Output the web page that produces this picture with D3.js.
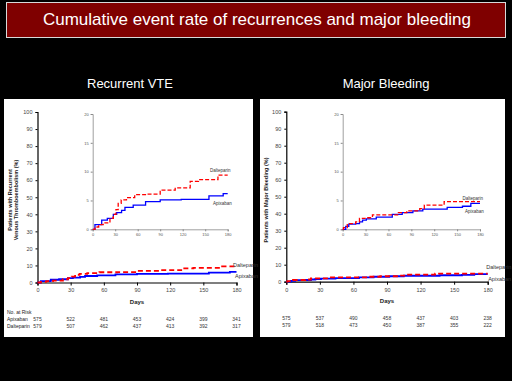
<!DOCTYPE html>
<html>
<head>
<meta charset="utf-8">
<script src="https://cdn.jsdelivr.net/npm/d3@7"></script>
<style>
  body { margin: 0; background: #000; }
  svg { display: block; font-family: "Liberation Sans", Arial, sans-serif; }
</style>
</head>
<body>
<div id="chart"></div>
<script>
// canvas
var width = 512,
    height = 381;

// x ticks (days) shared by all plots
var dayTicks = [0, 30, 60, 90, 120, 150, 180];

// Recurrent VTE, cumulative event rate (%) - step points
var vteApixDays = [0, 3, 12, 19.5, 27.5, 32, 38.5, 43, 54, 70.5, 90, 118, 155, 174, 180];
var vteApixVals = [0, 0.8, 1.6, 1.9, 2.6, 2.9, 3.3, 3.8, 4.2, 4.8, 5.1, 5.2, 5.8, 6.2, 6.2];
var vteDaltDays = [0, 3, 8, 14, 23, 27.5, 31, 34, 38, 45, 56, 72, 90, 110, 130, 141, 167, 180];
var vteDaltVals = [0, 0.4, 0.8, 1.1, 1.9, 2.6, 3.4, 4.5, 5.1, 5.5, 6.0, 6.1, 6.8, 7.2, 8.3, 8.6, 9.4, 9.4];

// Major bleeding, cumulative event rate (%)
var mbApixDays = [0, 4, 8, 17, 22, 26, 31, 44, 65, 78, 92, 105, 137, 157, 168, 180];
var mbApixVals = [0, 0.5, 0.9, 1.0, 1.3, 1.6, 1.8, 2.1, 2.6, 2.9, 3.2, 3.5, 3.8, 4.0, 4.5, 4.5];
var mbDaltDays = [0, 1, 6, 17, 22, 31, 39, 73, 84, 101, 107, 133, 180];
var mbDaltVals = [0, 0.3, 1.0, 1.3, 1.9, 2.0, 2.5, 2.9, 3.2, 3.6, 4.2, 4.8, 4.8];

// numbers at risk
var vteRiskApix = [575, 522, 481, 453, 424, 399, 341];
var vteRiskDalt = [579, 507, 462, 437, 413, 392, 317];
var mbRiskApix = [575, 537, 490, 458, 437, 403, 238];
var mbRiskDalt = [579, 518, 473, 450, 387, 355, 222];

var svg = d3.select("#chart")
    .append("svg")
    .attr("width", width)
    .attr("height", height);

svg.append("rect")
    .attr("width", width)
    .attr("height", height)
    .attr("fill", "#000");

// title banner
svg.append("rect")
    .attr("x", 6.5).attr("y", 2.5)
    .attr("width", 499).attr("height", 35)
    .attr("fill", "#7f0000")
    .attr("stroke", "#d8d8d8")
    .attr("stroke-width", 1);

svg.append("text")
    .attr("x", 257).attr("y", 24.5)
    .attr("text-anchor", "middle")
    .attr("fill", "#fff")
    .attr("font-size", "17px")
    .text("Cumulative event rate of recurrences and major bleeding");

function zip(days, vals) {
    return days.map(function(d, i) { return [d, vals[i]]; });
}

function drawPanel(cfg) {
    // subtitle above panel
    svg.append("text")
        .attr("x", cfg.titleX).attr("y", 88)
        .attr("text-anchor", "middle")
        .attr("fill", "#fff")
        .attr("font-size", "13px")
        .text(cfg.title);

    // white panel
    svg.append("rect")
        .attr("x", cfg.box[0]).attr("y", cfg.box[1])
        .attr("width", cfg.box[2]).attr("height", cfg.box[3])
        .attr("fill", "#fff");

    var g = svg.append("g");

    // main plot
    var x = d3.scaleLinear().domain([0, 180]).range(cfg.mainX);
    var y = d3.scaleLinear().domain([0, 100]).range(cfg.mainY);

    var xAxis = g.append("g")
        .attr("transform", "translate(0," + cfg.mainY[0] + ")")
        .call(d3.axisBottom(x).tickValues(dayTicks).tickSize(3).tickPadding(3));
    var yAxis = g.append("g")
        .attr("transform", "translate(" + cfg.mainX[0] + ",0)")
        .call(d3.axisLeft(y).ticks(10).tickSize(2).tickPadding(3));
    [xAxis, yAxis].forEach(function(a) {
        a.select(".domain").attr("stroke", "#000").attr("stroke-width", 1.2);
        a.selectAll(".tick line").attr("stroke", "#000");
        a.selectAll(".tick text").attr("font-size", "5.5px").attr("fill", "#444")
            .attr("font-family", "Liberation Sans, Arial, sans-serif");
    });

    g.append("text")
        .attr("x", (cfg.mainX[0] + cfg.mainX[1]) / 2)
        .attr("y", cfg.mainY[0] + 21)
        .attr("text-anchor", "middle")
        .attr("font-size", "6px")
        .attr("font-weight", "bold")
        .attr("fill", "#222")
        .text("Days");

    // y axis title
    var yl = g.append("text")
        .attr("transform", "translate(" + cfg.yLabelX + ",200) rotate(-90)")
        .attr("text-anchor", "middle")
        .attr("font-size", "5.5px")
        .attr("font-weight", "bold")
        .attr("fill", "#222");
    cfg.yLabel.forEach(function(t, i) {
        yl.append("tspan").attr("x", 0).attr("dy", i === 0 ? 0 : "1.15em").text(t);
    });

    var line = d3.line()
        .curve(d3.curveStepAfter)
        .x(function(d) { return x(d[0]); })
        .y(function(d) { return y(d[1]); });

    g.append("path")
        .datum(zip(cfg.apixDays, cfg.apixVals))
        .attr("d", line)
        .attr("fill", "none")
        .attr("stroke", "#0000ff")
        .attr("stroke-width", 1.8);
    g.append("path")
        .datum(zip(cfg.daltDays, cfg.daltVals))
        .attr("d", line)
        .attr("fill", "none")
        .attr("stroke", "#ff0000")
        .attr("stroke-width", 1.8)
        .attr("stroke-dasharray", "5,3");

    g.append("text")
        .attr("x", x(180) + cfg.labDx).attr("y", cfg.mainLabY[0])
        .attr("font-size", "5.5px").attr("fill", "#333")
        .text("Dalteparin");
    g.append("text")
        .attr("x", x(180) + cfg.labDx + 2).attr("y", cfg.mainLabY[1])
        .attr("font-size", "5.5px").attr("fill", "#333")
        .text("Apixaban");

    // numbers at risk
    var risk = g.append("g");
    if (cfg.riskLabels) {
        risk.append("text").attr("x", 7).attr("y", 314).attr("font-size", "5px").attr("fill", "#222")
            .text("No. at Risk");
        risk.append("text").attr("x", 7).attr("y", cfg.riskY[0]).attr("font-size", "5px").attr("fill", "#222")
            .text("Apixaban");
        risk.append("text").attr("x", 7).attr("y", cfg.riskY[1]).attr("font-size", "5px").attr("fill", "#222")
            .text("Dalteparin");
    }
    [cfg.riskApix, cfg.riskDalt].forEach(function(row, r) {
        risk.selectAll(null)
            .data(row)
            .enter().append("text")
            .attr("x", function(d, i) { return x(dayTicks[i]); })
            .attr("y", cfg.riskY[r])
            .attr("text-anchor", "middle")
            .attr("font-size", "5px")
            .attr("fill", "#333")
            .text(function(d) { return d; });
    });

    // inset plot
    var xi = d3.scaleLinear().domain([0, 180]).range(cfg.insetX);
    var yi = d3.scaleLinear().domain([0, 20]).range(cfg.insetY);

    var xiAxis = g.append("g")
        .attr("transform", "translate(0," + cfg.insetY[0] + ")")
        .call(d3.axisBottom(xi).tickValues(dayTicks).tickSize(2).tickPadding(2));
    var yiAxis = g.append("g")
        .attr("transform", "translate(" + cfg.insetX[0] + ",0)")
        .call(d3.axisLeft(yi).tickValues([0, 5, 10, 15, 20]).tickSize(2).tickPadding(2));
    [xiAxis, yiAxis].forEach(function(a) {
        a.select(".domain").attr("stroke", "#888").attr("stroke-width", 0.8);
        a.selectAll(".tick line").attr("stroke", "#888");
        a.selectAll(".tick text").attr("font-size", "4px").attr("fill", "#555")
            .attr("font-family", "Liberation Sans, Arial, sans-serif");
    });

    var lineI = d3.line()
        .curve(d3.curveStepAfter)
        .x(function(d) { return xi(d[0]); })
        .y(function(d) { return yi(d[1]); });

    g.append("path")
        .datum(zip(cfg.apixDays, cfg.apixVals))
        .attr("d", lineI)
        .attr("fill", "none")
        .attr("stroke", "#0000ff")
        .attr("stroke-width", 1.3);
    g.append("path")
        .datum(zip(cfg.daltDays, cfg.daltVals))
        .attr("d", lineI)
        .attr("fill", "none")
        .attr("stroke", "#ff0000")
        .attr("stroke-width", 1.3)
        .attr("stroke-dasharray", "4,2");

    g.append("text")
        .attr("x", cfg.insetLab[0]).attr("y", cfg.insetLab[1])
        .attr("font-size", "4.5px").attr("fill", "#333")
        .text("Dalteparin");
    g.append("text")
        .attr("x", cfg.insetLab[2]).attr("y", cfg.insetLab[3])
        .attr("font-size", "4.5px").attr("fill", "#333")
        .text("Apixaban");
}

drawPanel({
    title: "Recurrent VTE", titleX: 130,
    box: [4, 99, 249, 238],
    mainX: [37.5, 236.5], mainY: [282.5, 112],
    insetX: [92.7, 227.7], insetY: [229.3, 114],
    yLabelX: 11.5, yLabel: ["Patients with Recurrent", "Venous Thromboembolism (%)"],
    apixDays: vteApixDays, apixVals: vteApixVals,
    daltDays: vteDaltDays, daltVals: vteDaltVals,
    riskApix: vteRiskApix, riskDalt: vteRiskDalt,
    riskLabels: true, riskY: [321, 328],
    labDx: -3.5, mainLabY: [266.5, 277.5],
    insetLab: [210, 172, 213, 205]
});

drawPanel({
    title: "Major Bleeding", titleX: 386,
    box: [260, 99, 245, 238],
    mainX: [286.3, 487.7], mainY: [281.7, 111.7],
    insetX: [342.7, 480], insetY: [229.3, 114],
    yLabelX: 268, yLabel: ["Patients with Major Bleeding (%)"],
    apixDays: mbApixDays, apixVals: mbApixVals,
    daltDays: mbDaltDays, daltVals: mbDaltVals,
    riskApix: mbRiskApix, riskDalt: mbRiskDalt,
    riskLabels: false, riskY: [320, 327],
    labDx: -1.5, mainLabY: [269, 280.5],
    insetLab: [462.5, 200, 465, 212.5]
});
</script>
</body>
</html>
